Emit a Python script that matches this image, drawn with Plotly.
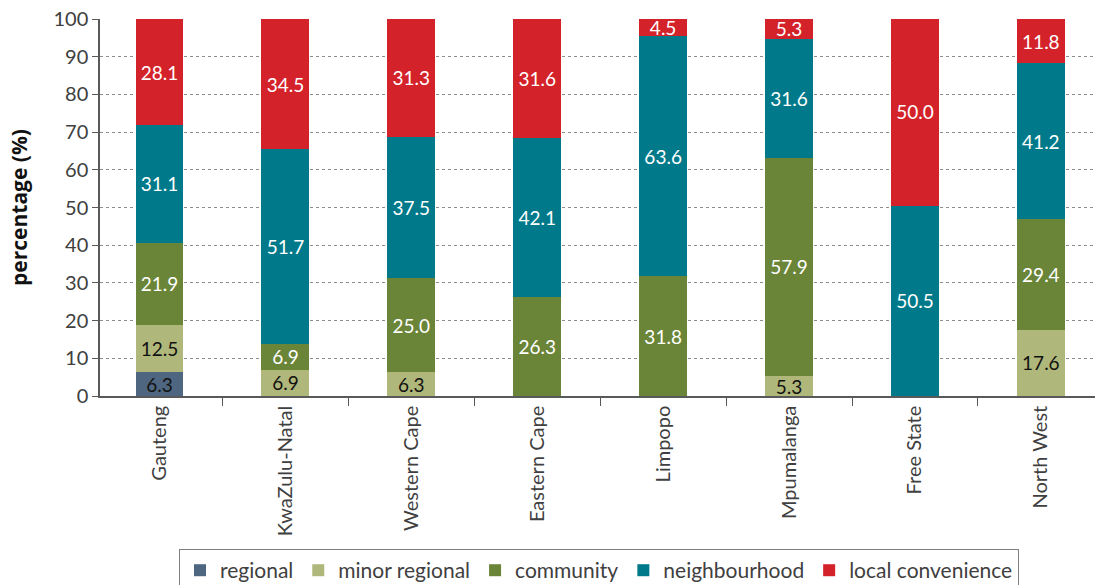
import plotly.graph_objects as go

provinces = ["Gauteng", "KwaZulu-Natal", "Western Cape", "Eastern Cape",
             "Limpopo", "Mpumalanga", "Free State", "North West"]

regional = [6.3, None, None, None, None, None, None, None]
minor_regional = [12.5, 6.9, 6.3, None, None, 5.3, None, 17.6]
community = [21.9, 6.9, 25.0, 26.3, 31.8, 57.9, None, 29.4]
neighbourhood = [31.1, 51.7, 37.5, 42.1, 63.6, 31.6, 50.5, 41.2]
local_convenience = [28.1, 34.5, 31.3, 31.6, 4.5, 5.3, 50.0, 11.8]

series = [
    ("regional", regional, "#4E6680", "#111111"),
    ("minor regional", minor_regional, "#B0B77A", "#111111"),
    ("community", community, "#6A8538", "#FFFFFF"),
    ("neighbourhood", neighbourhood, "#007A8A", "#FFFFFF"),
    ("local convenience", local_convenience, "#D4222B", "#FFFFFF"),
]

FONT = "Lato, 'Open Sans', sans-serif"

fig = go.Figure()
for name, vals, color, txtcolor in series:
    fig.add_trace(go.Bar(
        x=provinces,
        y=vals,
        name=name,
        marker=dict(color=color, line=dict(width=0)),
        text=[f"{v:.1f}" if v is not None else "" for v in vals],
        textposition="inside",
        insidetextanchor="middle",
        textangle=0,
        textfont=dict(family=FONT, size=19, color=txtcolor),
        constraintext="none",
        cliponaxis=True,
    ))

fig.update_layout(
    barmode="stack",
    bargap=0.62,
    width=1102,
    height=585,
    margin=dict(l=100, r=7, t=19, b=189, autoexpand=False),
    plot_bgcolor="white",
    paper_bgcolor="white",
    font=dict(family=FONT, size=18, color="#404040"),
    legend=dict(
        orientation="h",
        x=0.5015, xanchor="center",
        y=-0.406, yanchor="top",
        bordercolor="#7F7F7F", borderwidth=1,
        font=dict(family=FONT, size=21, color="#404040"),
        itemwidth=30,
        traceorder="normal",
    ),
    showlegend=True,
)

fig.update_xaxes(
    type="category",
    range=[-0.4726, 7.43],
    automargin=False,
    tickangle=-90,
    tickfont=dict(family=FONT, size=20, color="#404040"),
    showline=True, linecolor="#595959", linewidth=1.5,
    ticks="outside", ticklen=8, tickcolor="#595959",
    tickson="boundaries",
    showgrid=False,
)

fig.update_yaxes(
    range=[0, 100],
    dtick=10,
    automargin=False,
    tickfont=dict(family=FONT, size=20, color="#404040"),
    showline=True, linecolor="#595959", linewidth=1.5,
    ticks="outside", ticklen=6, tickcolor="#595959",
    showgrid=True, gridcolor="#8C8C8C", griddash="dot", gridwidth=1,
    zeroline=False,
    title=dict(text="<b>percentage (%)</b>",
               font=dict(family="'Open Sans', sans-serif", size=21, color="#111111"),
               standoff=20),
)

fig.write_html("out.html")
